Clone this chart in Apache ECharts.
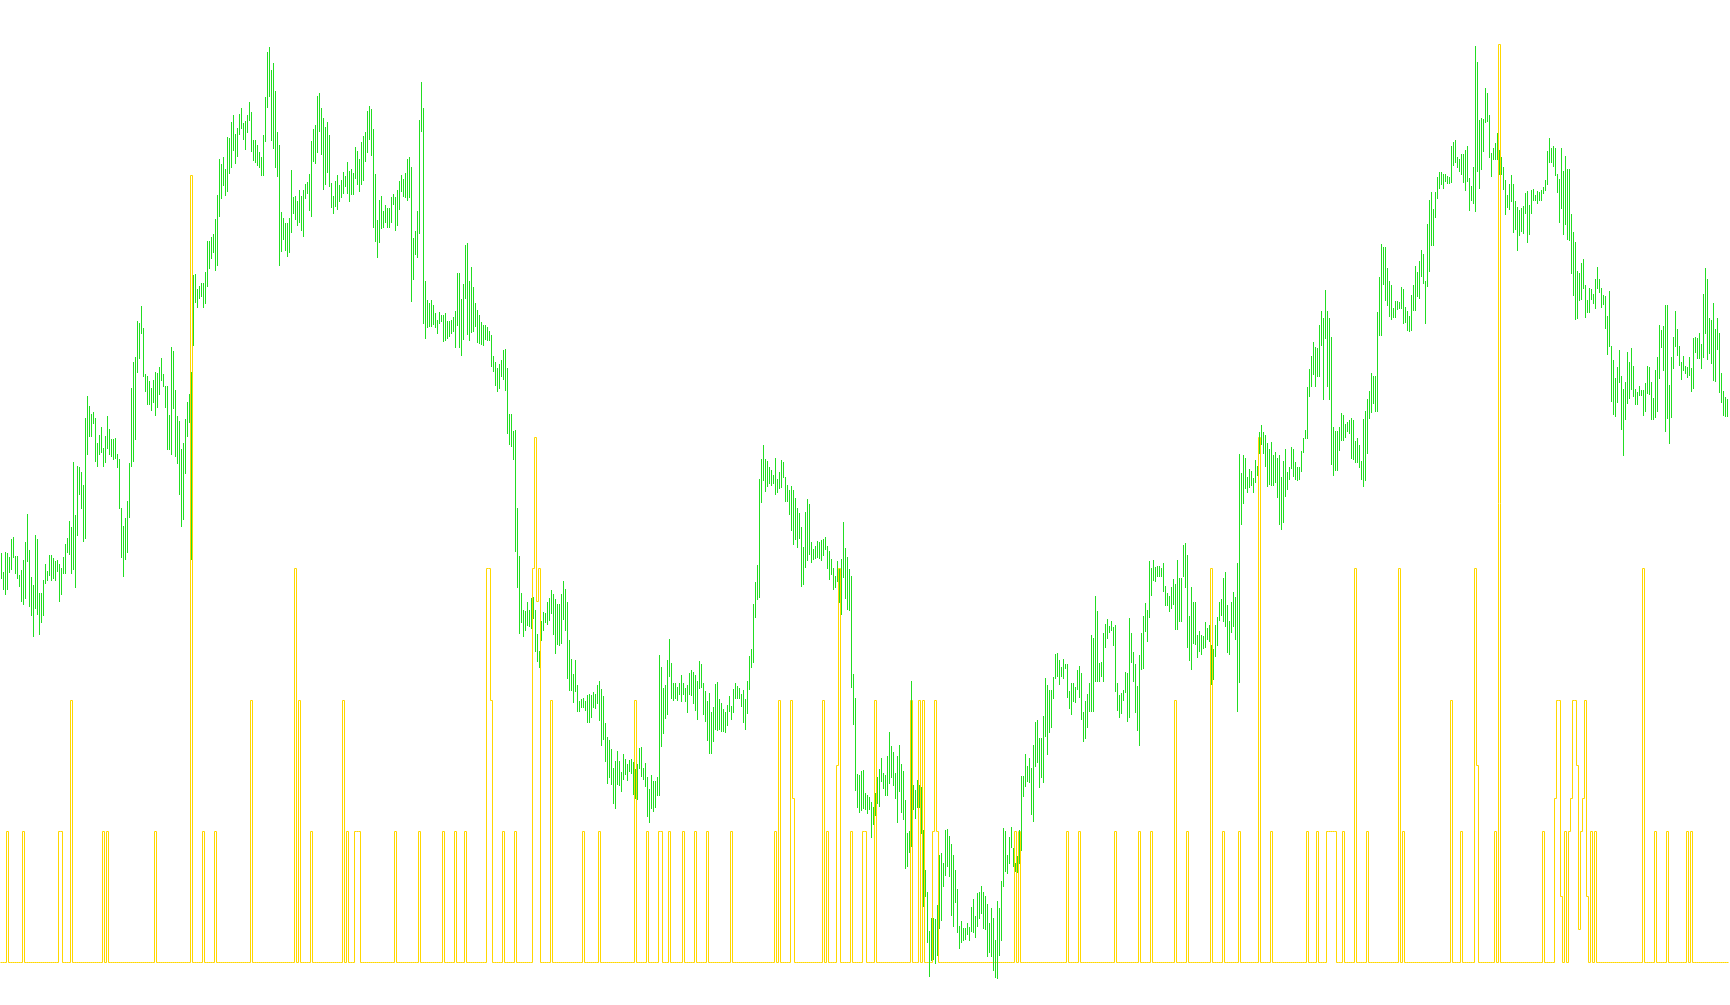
<!DOCTYPE html>
<html>
<head>
<meta charset="utf-8">
<script src="https://cdn.jsdelivr.net/npm/echarts@6/dist/echarts.min.js"></script>
<style>
html,body{margin:0;padding:0;background:#ffffff;}
#chart{width:1730px;height:1005px;}
</style>
</head>
<body>
<div id="chart"></div>
<script>
// Price bars: top (high) and bottom (low) of each bar, in picture units (0 = top of chart, 1005 = bottom).
const highA = [
553,572,552,553,557,539,537,556,556,575,
570,560,542,514,550,577,585,535,539,593,
593,580,564,571,555,555,558,561,560,564,
568,557,544,538,521,527,462,515,466,467,
472,485,418,396,406,414,412,418,443,435,
427,448,436,416,429,439,439,438,454,459,
508,526,518,501,463,388,362,357,321,323,
306,328,374,376,381,388,380,372,373,367,
358,374,386,386,415,347,351,390,416,421,
449,443,419,402,394,372,275,274,289,286,
283,283,272,241,241,237,234,219,195,159,
164,157,169,137,138,122,115,134,128,114,
108,123,121,115,102,112,140,140,145,152,
157,135,97,52,47,70,63,91,132,145,
212,218,223,223,218];
const lowA = [
579,590,595,590,573,570,558,574,579,587,
602,605,599,562,607,616,637,609,615,635,
623,616,584,581,576,581,579,581,572,602,
595,574,574,553,555,574,570,588,536,495,
509,542,539,455,437,437,424,462,467,455,
453,467,463,449,455,457,460,459,468,509,
558,577,560,553,518,467,462,440,373,359,
334,377,392,405,405,411,403,416,408,395,
381,387,408,450,450,455,409,457,464,495,
527,520,474,437,423,560,346,303,308,299,
297,308,304,287,269,259,253,271,266,217,
199,186,196,192,174,168,151,164,157,135,
129,140,150,133,121,152,161,163,166,168,
176,176,142,108,97,141,149,168,177,266,
252,240,251,257,253];
const highB = [
170,197,196,201,190,196,190,184,182,174,
141,129,125,96,93,108,118,127,122,135,
183,196,181,175,185,180,172,176,162,171,
169,173,147,151,159,142,136,132,111,106,
109,129,174,220,200,196,211,205,208,208,
197,194,197,190,181,175,179,173,159,157,
167,238,231,211,120,82,108,281,300,303,
300,305,313,320,312,315,315,313,321,321,
320,317,311,273,273,299,284,245,243,281,
267,287,303,310,315,322,325,325,327,331,
335,356,362,368,364,360,350,349,368,414,
414,431,430,508,556,593,610,611,602,610,
598,597,610,634,651,621,612,613,602,598,
590,594,599,604,604];
const lowB = [
233,214,220,226,223,231,237,199,194,211,
217,162,164,153,132,155,190,185,173,187,
208,214,207,210,202,198,194,187,194,202,
195,195,179,185,192,185,181,162,153,140,
156,228,242,258,243,229,228,223,228,228,
223,205,231,226,210,192,197,198,201,198,
302,280,255,258,234,132,324,339,328,327,
327,325,328,334,324,322,342,341,339,337,
334,332,348,326,348,356,340,299,335,341,
333,332,327,343,344,345,346,340,341,341,
367,372,386,392,389,377,380,391,434,445,
447,460,552,588,634,623,637,631,626,627,
629,619,652,662,668,641,631,623,625,621,
614,635,654,645,646];
const highC = [
594,581,589,602,640,659,674,660,685,701,
699,698,701,695,694,695,692,694,685,681,
689,696,723,737,740,749,768,761,751,761,
772,754,759,764,760,759,762,769,764,748,
747,768,763,777,789,775,781,781,777,655,
667,688,685,660,639,663,683,683,687,683,
675,683,688,685,673,670,672,675,681,661,
664,683,691,701,693,712,707,684,682,699,
703,709,712,705,696,706,689,683,686,688,
694,690,699,681,656,649,604,582,565,479,
459,445,459,461,467,470,475,458,479,472,
460,462,477,485,490,486,490,498,508,513,
527,547,512,499,504,542,549,546,541,542,
540,539,537,546,551,559,568,576,561,569,
559,522,548,557,569,576,674,698,774,775,
771,770,793,795,797];
const lowC = [
644,620,631,679,691,691,703,692,712,712,
708,708,711,723,723,718,708,709,704,721,
746,740,762,784,778,785,804,809,785,786,
792,780,775,781,772,774,795,799,800,769,
777,780,787,817,823,809,812,808,796,796,
747,734,719,715,677,699,701,699,701,695,
702,695,702,713,695,696,704,711,720,689,
688,715,722,741,754,754,742,730,731,730,
732,732,733,726,712,720,713,699,699,699,
707,723,730,714,690,668,663,618,600,598,
503,481,492,487,484,486,484,495,493,489,
488,478,502,502,515,531,545,540,548,539,
587,585,568,561,555,563,560,559,558,559,
561,556,550,569,580,575,590,588,582,603,
615,578,599,610,611,688,725,791,808,813,
811,809,810,814,810];
const highD = [
802,807,793,777,769,758,773,775,756,732,
746,752,773,756,745,764,771,800,833,831,
681,785,790,780,785,787,830,870,892,931,
918,918,919,905,855,853,863,830,829,836,
844,855,870,889,926,921,928,928,923,927,
907,899,916,893,892,886,892,896,904,923,
908,918,940,901,908,881,828,831,855,837,
827,848,863,856,830,776,776,754,766,758,
768,745,722,720,738,738,716,678,685,690,
690,677,654,653,660,667,659,664,664,691,
683,683,687,670,666,673,712,701,694,683,
635,638,596,611,663,662,633,624,619,626,
621,627,625,683,695,693,690,672,673,618,
633,652,664,686,655,633,616,603,610,561,
568,560,567,566];
const lowD = [
838,825,816,804,807,782,789,796,796,784,
778,786,799,823,792,813,820,869,867,853,
847,810,819,808,808,834,907,897,943,977,
961,960,964,956,929,921,887,876,867,877,
916,927,903,933,949,943,941,940,935,941,
932,933,938,927,919,914,929,930,957,953,
957,971,978,979,956,941,887,872,874,864,
848,867,872,873,864,851,797,787,782,783,
815,822,767,763,788,778,783,737,755,733,
728,699,679,677,685,677,679,669,698,709,
715,702,703,690,698,720,742,739,728,712,
712,712,682,682,682,677,682,648,639,633,
631,646,692,711,718,714,701,693,722,718,
663,682,713,731,746,670,669,632,642,618,
596,581,582,577];
const highE = [
566,568,563,586,593,596,587,579,584,560,
578,578,545,543,555,616,587,602,602,635,
631,635,636,622,628,625,645,649,625,617,
602,599,578,572,605,621,602,592,597,563,
454,473,455,458,477,469,471,478,460,466,
432,425,432,435,443,449,442,455,452,458,
455,477,461,449,472,467,447,449,462,467,
467,451,438,430,387,369,356,342,347,348,
325,311,318,290,311,318,337,427,431,431,
427,413,415,424,422,420,418,420,441,438,
445,461,419,411,399,391,373,376,376,312,
277,244,247,247,268,281,285,308,301,301,
302,287,289,307,311,316,295,285,266,272,
261,250,254,281,224,200,192,209,192,177,
172,172,174,174,176];
const lowE = [
577,577,592,606,606,612,609,605,630,630,
622,622,577,588,648,661,670,644,645,658,
652,655,649,648,640,642,685,680,657,646,
621,616,622,627,653,655,633,627,640,712,
683,525,504,489,493,488,486,493,483,476,
454,445,454,467,487,485,486,486,483,498,
525,530,523,497,490,480,469,477,480,481,
480,472,453,439,439,397,387,375,387,377,
377,346,400,339,387,400,465,476,471,471,
451,441,441,438,432,434,459,460,463,463,
468,480,487,481,454,419,413,404,412,412,
336,336,285,301,306,317,320,318,318,310,
309,309,324,323,331,332,331,311,311,297,
299,277,284,324,287,272,246,246,218,199,
189,185,189,182,184];
const highF = [
177,146,142,140,157,159,154,154,150,146,
178,186,167,46,62,120,118,119,88,93,
115,153,148,143,133,150,157,167,180,195,
184,175,184,201,207,210,208,206,193,191,
205,190,189,195,191,192,190,187,180,151,
138,148,146,148,174,179,148,171,156,169,
169,214,232,242,271,273,263,259,285,300,
288,289,294,279,267,279,288,295,296,316,
291,346,360,378,367,350,376,389,382,352,
362,348,366,389,392,386,390,390,383,366,
367,382,398,370,357,325,330,326,305,305,
385,357,337,311,329,346,362,356,366,367,
357,368,338,337,338,333,344,294,268,279,
318,320,303,329,318,333,373,391,397,399];
const lowF = [
184,183,166,163,168,172,175,183,191,182,
211,201,204,212,172,189,170,152,123,122,
158,177,160,160,160,175,175,190,215,208,
210,202,233,230,251,236,232,234,214,243,
235,214,201,201,204,201,201,194,191,185,
163,163,167,176,193,223,209,235,225,240,
241,274,296,320,319,301,300,289,318,313,
313,300,304,309,289,293,308,305,329,355,
347,402,415,417,403,383,430,456,420,404,
399,390,397,405,405,396,396,416,412,394,
395,420,420,418,412,379,348,371,432,419,
444,418,369,347,356,366,380,371,374,378,
376,392,389,353,359,359,369,358,334,360,
354,364,381,382,350,393,403,416,417,417];

// Yellow signal line: [bar index, level] for every bar where it leaves zero.
const signalSpikes = [
[3,4],[11,4],[29,4],[30,4],[35,8],[51,4],[53,4],[77,4],[95,24],[101,4],[107,4],[125,8],
[147,12],[149,8],[155,4],[171,8],[173,4],[177,4],[178,4],[179,4],[197,4],[209,4],[221,4],
[227,4],[232,4],[243,12],[244,12],[245,8],[251,4],[257,4],[266,12],[267,16],[268,11],[269,12],[275,8],
[291,4],[299,4],[317,8],[323,4],[329,4],[330,4],[334,4],[341,4],[347,4],[353,4],[365,4],
[387,4],[389,8],[395,8],[396,5],[411,8],[413,4],[418,6],[419,12],[425,4],[431,4],[432,4],
[437,8],[455,8],[459,8],[461,8],[466,4],[467,8],[468,4],[507,4],[509,4],[533,4],[539,4],
[557,4],[569,4],[575,4],
[587,8],[593,4],[605,12],[611,4],[619,4],[629,16],[635,4],[653,4],[658,4],
[663,4],[664,4],[665,4],[666,4],[667,4],[671,4],[677,12],[683,4],[699,12],[701,4],
[725,8],[730,4],[737,12],[738,6],[747,4],[749,28],[771,4],
[777,5],[778,8],[779,8],[780,2],[782,4],[784,4],[785,5],[786,8],[787,8],[788,6],[789,1],
[790,4],[791,5],[792,8],[793,2],[795,4],[797,4],
[821,12],[827,4],[833,4],[843,4],[845,4]
];

const highs = [].concat(highA, highB, highC, highD, highE, highF);
const lows = [].concat(lowA, lowB, lowC, lowD, lowE, lowF);
const barIndex = highs.map(function (_, i) { return i; });
const signal = highs.map(function () { return 0; });
signalSpikes.forEach(function (p) { signal[p[0]] = p[1]; });
const barData = highs.map(function (h, i) { return [i, h, lows[i]]; });
// each step of the signal: [bar, level, level of the next bar]
const stepData = signal.map(function (v, i) {
  return [i, v, i + 1 < signal.length ? signal[i + 1] : v];
});

const GREEN = '#22dd22';
const GOLD = '#ffd700';

const chart = echarts.init(document.getElementById('chart'), null, { renderer: 'canvas' });
chart.setOption({
  animation: false,
  backgroundColor: '#ffffff',
  grid: { left: 0.5, right: 1.5, top: 0, bottom: 0, containLabel: false },
  xAxis: { type: 'category', data: barIndex, show: false, boundaryGap: true },
  yAxis: [
    { type: 'value', inverse: true, min: 0, max: 1005, show: false },
    { type: 'value', min: -1.296, max: 29.344, show: false }
  ],
  series: [
    {
      type: 'custom',
      yAxisIndex: 1,
      data: stepData,
      silent: true,
      z: 1,
      encode: { x: 0, y: [1, 2] },
      renderItem: function (params, api) {
        var i = api.value(0);
        var p = api.coord([i, api.value(1)]);
        var pn = api.coord([i, api.value(2)]);
        var half = api.size([1, 0])[0] / 2;
        var xl = Math.floor(p[0] - half) + 0.5;
        var xr = Math.floor(p[0] + half) + 0.5;
        var y = Math.floor(p[1]) + 0.5;
        var yn = Math.floor(pn[1]) + 0.5;
        return {
          type: 'polyline',
          shape: { points: [[xl, y], [xr, y], [xr, yn]] },
          style: { stroke: GOLD, lineWidth: 1, fill: 'none' }
        };
      }
    },
    {
      type: 'custom',
      yAxisIndex: 0,
      data: barData,
      silent: true,
      z: 2,
      encode: { x: 0, y: [1, 2] },
      renderItem: function (params, api) {
        var top = api.coord([api.value(0), api.value(1)]);
        var bot = api.coord([api.value(0), api.value(2)]);
        var x = Math.floor(top[0]);
        return {
          type: 'rect',
          shape: { x: x, y: top[1], width: 1, height: Math.max(1, bot[1] - top[1]) },
          style: { fill: GREEN }
        };
      }
    }
  ]
});
</script>
</body>
</html>
